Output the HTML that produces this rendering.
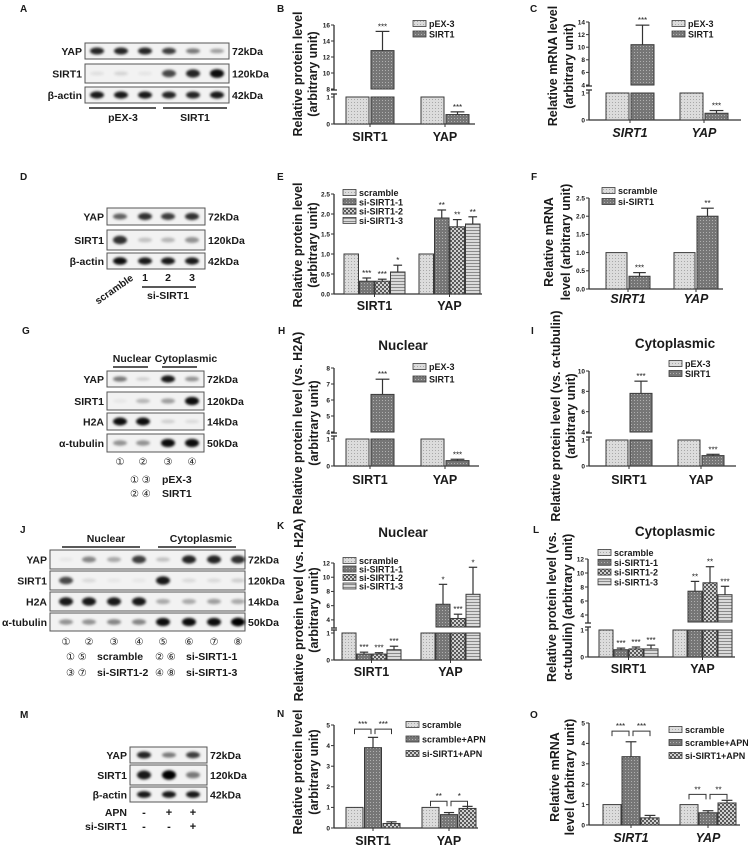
<!DOCTYPE html>
<html><head><meta charset="utf-8">
<style>
html,body{margin:0;padding:0;background:#fff;}
svg{display:block;font-family:"Liberation Sans",Arial,sans-serif;}
</style></head>
<body>
<svg id="fig" width="748" height="847" viewBox="0 0 748 847" xmlns="http://www.w3.org/2000/svg">
<defs>
<pattern id="pDot" width="3" height="3" patternUnits="userSpaceOnUse"><rect width="3" height="3" fill="#dcdcdc"/><rect x="0" y="0" width="1" height="1" fill="#a8a8a8"/></pattern>
<pattern id="pCross" width="3" height="3" patternUnits="userSpaceOnUse"><rect width="3" height="3" fill="#767676"/><rect x="1" y="1" width="1" height="1" fill="#b0b0b0"/></pattern>
<pattern id="pCheck" width="4" height="4" patternUnits="userSpaceOnUse"><rect width="4" height="4" fill="#5a5a5a"/><rect x="0" y="0" width="2" height="2" fill="#d0d0d0"/><rect x="2" y="2" width="2" height="2" fill="#d0d0d0"/></pattern>
<pattern id="pStripe" width="3" height="3" patternUnits="userSpaceOnUse"><rect width="3" height="3" fill="#dadada"/><rect x="0" y="2" width="3" height="1" fill="#8a8a8a"/></pattern>
<filter id="blur" x="-50%" y="-50%" width="200%" height="200%"><feGaussianBlur stdDeviation="1.4"/></filter>
</defs>
</svg>
<script>
// ---------- chart data ----------
const cats = ['SIRT1','YAP'];
// B
const bPex = [1,1]; const bSirt = [12.8,0.35]; const bSirtErr = [2.4,0.1];
const bTicksLow = [0,1]; const bTicksHigh = [8,10,12,14,16];
// C
const cPex = [1,1]; const cSirt = [10.4,0.25]; const cSirtErr = [3.1,0.1];
const cTicksLow = [0,1]; const cTicksHigh = [4,6,8,10,12,14];
// E
const eScr = [1,1]; const eSi1 = [0.32,1.9]; const eSi2 = [0.32,1.68]; const eSi3 = [0.55,1.75];
const eSi1Err = [0.08,0.2]; const eSi2Err = [0.05,0.18]; const eSi3Err = [0.17,0.18];
const eSi1Sig = ['***','**']; const eSi2Sig = ['***','**']; const eSi3Sig = ['*','**'];
const eTicks = [0,0.5,1.0,1.5,2.0,2.5];
// F
const fScr = [1,1]; const fSi = [0.35,2.0]; const fSiErr = [0.1,0.22]; const fSiSig = ['***','**'];
const fTicks = [0,0.5,1.0,1.5,2.0,2.5];
// H
const hPex = [1,1]; const hSirt = [6.35,0.2]; const hSirtErr = [0.95,0.05];
const hTicksLow = [0,1]; const hTicksHigh = [4,5,6,7,8];
// I
const iPex = [1,1]; const iSirt = [7.8,0.4]; const iSirtErr = [1.2,0.05];
const iTicksLow = [0,1]; const iTicksHigh = [4,6,8,10];
// K
const kScr = [1,1]; const kSi1 = [0.22,6.2]; const kSi2 = [0.22,4.2]; const kSi3 = [0.38,7.6];
const kSi1Err = [0.07,2.8]; const kSi2Err = [0.05,0.6]; const kSi3Err = [0.13,3.8];
const kSi1Sig = ['***','*']; const kSi2Sig = ['***','***']; const kSi3Sig = ['***','*'];
const kTicksLow = [0,1]; const kTicksHigh = [4,6,8,10,12];
// L
const lScr = [1,1]; const lSi1 = [0.27,7.4]; const lSi2 = [0.3,8.6]; const lSi3 = [0.3,6.9];
const lSi1Err = [0.06,1.4]; const lSi2Err = [0.07,2.3]; const lSi3Err = [0.14,1.2];
const lSi1Sig = ['***','**']; const lSi2Sig = ['***','**']; const lSi3Sig = ['***','***'];
const lTicksLow = [0,1]; const lTicksHigh = [4,6,8,10,12];
// N
const nScr = [1,1]; const nApn = [3.9,0.65]; const nSiApn = [0.22,0.95];
const nApnErr = [0.5,0.1]; const nSiApnErr = [0.08,0.1];
const nBracketY = [4.8,1.3]; const nSig12 = ['***','**']; const nSig23 = ['***','*'];
const nTicks = [0,1,2,3,4,5];
// O
const oScr = [1,1]; const oApn = [3.35,0.6]; const oSiApn = [0.35,1.08];
const oApnErr = [0.73,0.1]; const oSiApnErr = [0.12,0.13];
const oBracketY = [4.6,1.5]; const oSig12 = ['***','**']; const oSig23 = ['***','**'];
const oTicks = [0,1,2,3,4,5];

// ---------- blot data (band intensities per lane) ----------
const aYap = [.85,.85,.85,.75,.5,.35]; const aSirt = [.08,.12,.06,.7,.85,.95]; const aActin = [.9,.9,.9,.85,.85,.9];
const dYap = [.6,.8,.75,.8]; const dSirt = [.8,.2,.25,.4]; const dActin = [.95,.9,.9,.9];
const gYap = [.5,.15,.9,.4]; const gSirt = [.05,.25,.35,.95]; const gH2a = [.95,.95,.15,.1]; const gTub = [.4,.4,.95,.95];
const jYap = [.05,.45,.3,.75,.2,.85,.85,.8]; const jSirt = [.7,.1,.05,.05,.9,.1,.1,.15]; const jH2a = [.9,.9,.9,.9,.3,.3,.35,.3]; const jTub = [.4,.4,.45,.45,.95,.95,.95,1];
const mYap = [.85,.5,.75]; const mSirt = [.9,1,.5]; const mActin = [.9,.9,.9];

const NS = 'http://www.w3.org/2000/svg';
const fig = document.getElementById('fig');
function el(tag, attrs, parent, name){
  const e = document.createElementNS(NS, tag);
  for (const k in attrs) e.setAttribute(k, attrs[k]);
  
  
  (parent||fig).appendChild(e);
  return e;
}
function txt(x,y,s,size,opts,parent,name){
  opts = opts||{};
  const t = el('text',{x:x,y:y,'font-size':size,'font-weight':opts.w||'bold','text-anchor':opts.a||'start',fill:'#1a1a1a','font-style':opts.i?'italic':'normal'},parent,name);
  if (opts.rot) t.setAttribute('transform','rotate(-90 '+x+' '+y+')');
  t.textContent = s;
  return t;
}

function chart(c){
  const g = el('g',{},fig,c.name);
  const Y = v => {
    if (!c.brk) return c.y0 - (v - 0)/(c.max)*(c.y0 - c.yTop);
    if (v <= 1) return c.y0 - v*(c.y0 - c.y1);
    return c.yLo - (v - c.lo)/(c.hi - c.lo)*(c.yLo - c.yHi);
  };
  const stroke = {stroke:'#333','stroke-width':1.3,fill:'none'};
  if (c.brk){
    el('line',Object.assign({x1:c.ax,y1:c.y0,x2:c.ax,y2:c.y1-3},stroke),g,'y-axis-lower');
    el('line',Object.assign({x1:c.ax-3,y1:c.y1-3,x2:c.ax+3,y2:c.y1-3},stroke),g,'axis-break-mark');
    el('line',Object.assign({x1:c.ax,y1:c.yLo+1,x2:c.ax,y2:c.yHi},stroke),g,'y-axis-upper');
    el('line',Object.assign({x1:c.ax-3,y1:c.yLo+1,x2:c.ax+3,y2:c.yLo+1},stroke),g,'axis-break-mark');
  } else {
    el('line',Object.assign({x1:c.ax,y1:c.y0,x2:c.ax,y2:c.yTop},stroke),g,'y-axis');
  }
  el('line',Object.assign({x1:c.ax,y1:c.y0,x2:c.end,y2:c.y0},stroke),g,'x-axis');
  c.ticks.forEach(v => {
    const y = Y(v);
    el('line',{x1:c.ax-3,y1:y,x2:c.ax,y2:y,stroke:'#333','stroke-width':1},g,'y-tick');
    txt(c.ax-4, y+2.3, c.dec ? v.toFixed(1) : String(v), 6.5, {a:'end'}, g, 'y-tick-label');
  });
  const n = c.series.length;
  cats.forEach((cat, gi) => {
    const gx = c.gs[gi];
    const gw = n*c.bw + (n-1)*c.gap;
    el('line',{x1:gx+gw/2,y1:c.y0,x2:gx+gw/2,y2:c.y0+3,stroke:'#333','stroke-width':1},g,'x-tick');
    txt(gx+gw/2, c.ly, cat, 12.5, {a:'middle', i:c.italic}, g, 'x-label-'+cat.toLowerCase());
    c.series.forEach((s, si) => {
      const v = s.vals[gi];
      const x = gx + si*(c.bw + c.gap);
      const bs = {fill:'url(#'+s.pat+')',stroke:'#3a3a3a','stroke-width':1};
      if (c.brk && v > 1){
        el('rect',Object.assign({x:x,y:Y(1),width:c.bw,height:c.y0-Y(1)},bs),g,'bar-'+cat.toLowerCase()+'-'+si+'-lower');
        el('rect',Object.assign({x:x,y:Y(v),width:c.bw,height:c.yLo-Y(v)},bs),g,'bar-'+cat.toLowerCase()+'-'+si+'-upper');
      } else {
        el('rect',Object.assign({x:x,y:Y(v),width:c.bw,height:c.y0-Y(v)},bs),g,'bar-'+cat.toLowerCase()+'-'+si);
      }
      const cx = x + c.bw/2;
      let top = Y(v);
      if (s.errs && s.errs[gi]){
        const ye = Y(v + s.errs[gi]);
        el('line',{x1:cx,y1:Y(v),x2:cx,y2:ye,stroke:'#333','stroke-width':1.2},g,'error-bar');
        el('line',{x1:cx-c.bw*0.3,y1:ye,x2:cx+c.bw*0.3,y2:ye,stroke:'#333','stroke-width':1.2},g,'error-cap');
        top = ye;
      }
      if (s.sig && s.sig[gi]) txt(cx, top-2, s.sig[gi], 8, {a:'middle', w:'normal'}, g, 'significance-star');
    });
    if (c.brackets){
      const by = Y(c.brackets.y[gi]);
      const cxs = [0,1,2].map(i => gx + i*(c.bw+c.gap) + c.bw/2);
      [[0,1,c.brackets.s12[gi]],[1,2,c.brackets.s23[gi]]].forEach(([a,b,s]) => {
        const x1 = cxs[a] + (a===1?2:0), x2 = cxs[b] - (b===1?2:0);
        el('path',{d:'M'+x1+' '+(by+5)+' V'+by+' H'+x2+' V'+(by+5),stroke:'#333','stroke-width':1,fill:'none'},g,'significance-bracket');
        txt((x1+x2)/2, by-2, s, 8, {a:'middle', w:'normal'}, g, 'significance-star');
      });
    }
  });
  c.series.forEach((s, si) => {
    const ly = c.lgY + si*c.lgDy;
    el('rect',{x:c.lgX,y:ly-3.5,width:13,height:6,fill:'url(#'+s.pat+')',stroke:'#3a3a3a','stroke-width':0.8},g,'legend-swatch');
    txt(c.lgX+16, ly+3, s.name, 9, {}, g, 'legend-entry');
  });
  c.yt.forEach(t => txt(t[0], c.ytY, t[1], t[2]||12.5, {a:'middle', rot:true}, g, 'y-axis-title'));
  if (c.title) txt(c.title[0], c.title[1], c.title[2], 13.5, {a:'middle'}, g, 'chart-title');
}

chart({name:'chart-b',brk:true,ax:334,end:475,y0:124,y1:97,lo:8,hi:16,yLo:89,yHi:25,ticks:bTicksLow.concat(bTicksHigh),gs:[346,421],bw:23,gap:2,ly:141,
  series:[{name:'pEX-3',vals:bPex,pat:'pDot'},{name:'SIRT1',vals:bSirt,errs:bSirtErr,sig:['***','***'],pat:'pCross'}],
  lgX:413,lgY:24,lgDy:10.5,ytY:74,yt:[[302,'Relative protein level'],[317,'(arbitrary unit)']]});
chart({name:'chart-c',brk:true,ax:589,end:741,y0:120,y1:93,lo:4,hi:14,yLo:85,yHi:22,ticks:cTicksLow.concat(cTicksHigh),gs:[606,680],bw:23,gap:2,ly:137,italic:true,
  series:[{name:'pEX-3',vals:cPex,pat:'pDot'},{name:'SIRT1',vals:cSirt,errs:cSirtErr,sig:['***','***'],pat:'pCross'}],
  lgX:672,lgY:24,lgDy:10.5,ytY:66,yt:[[557,'Relative  mRNA level'],[573,'(arbitrary unit)']]});
chart({name:'chart-e',ax:334,end:482,y0:294,yTop:194,max:2.5,dec:true,ticks:eTicks,gs:[344,419],bw:14.5,gap:1,ly:310,
  series:[{name:'scramble',vals:eScr,pat:'pDot'},{name:'si-SIRT1-1',vals:eSi1,errs:eSi1Err,sig:eSi1Sig,pat:'pCross'},{name:'si-SIRT1-2',vals:eSi2,errs:eSi2Err,sig:eSi2Sig,pat:'pCheck'},{name:'si-SIRT1-3',vals:eSi3,errs:eSi3Err,sig:eSi3Sig,pat:'pStripe'}],
  lgX:343,lgY:193,lgDy:9.3,ytY:245,yt:[[302,'Relative protein level'],[317,'(arbitrary unit)']]});
chart({name:'chart-f',ax:589,end:723,y0:289,yTop:198,max:2.5,dec:true,ticks:fTicks,gs:[606,674],bw:21,gap:2,ly:303,italic:true,
  series:[{name:'scramble',vals:fScr,pat:'pDot'},{name:'si-SIRT1',vals:fSi,errs:fSiErr,sig:fSiSig,pat:'pCross'}],
  lgX:602,lgY:191,lgDy:11,ytY:242,yt:[[553,'Relative  mRNA'],[570,'level (arbitrary unit)']]});
chart({name:'chart-h',brk:true,ax:334,end:479,y0:466,y1:439,lo:4,hi:8,yLo:432,yHi:368,ticks:hTicksLow.concat(hTicksHigh),gs:[346,421],bw:23,gap:2,ly:484,
  series:[{name:'pEX-3',vals:hPex,pat:'pDot'},{name:'SIRT1',vals:hSirt,errs:hSirtErr,sig:['***','***'],pat:'pCross'}],
  lgX:413,lgY:367,lgDy:12.5,ytY:423,yt:[[302,'Relative protein level (vs. H2A)'],[318,'(arbitrary unit)']],title:[403,350,'Nuclear']});
chart({name:'chart-i',brk:true,ax:589,end:736,y0:466,y1:440,lo:4,hi:10,yLo:432,yHi:371,ticks:iTicksLow.concat(iTicksHigh),gs:[606,678],bw:22,gap:2,ly:484,
  series:[{name:'pEX-3',vals:iPex,pat:'pDot'},{name:'SIRT1',vals:iSirt,errs:iSirtErr,sig:['***','***'],pat:'pCross'}],
  lgX:669,lgY:364,lgDy:10,ytY:416,yt:[[560,'Relative protein level (vs. α-tubulin)'],[575,'(arbitrary unit)']],title:[675,348,'Cytoplasmic']});
chart({name:'chart-k',brk:true,ax:334,end:482,y0:660,y1:633,lo:3,hi:12,yLo:627,yHi:563,ticks:kTicksLow.concat(kTicksHigh),gs:[342,421],bw:14,gap:1,ly:676,
  series:[{name:'scramble',vals:kScr,pat:'pDot'},{name:'si-SIRT1-1',vals:kSi1,errs:kSi1Err,sig:kSi1Sig,pat:'pCross'},{name:'si-SIRT1-2',vals:kSi2,errs:kSi2Err,sig:kSi2Sig,pat:'pCheck'},{name:'si-SIRT1-3',vals:kSi3,errs:kSi3Err,sig:kSi3Sig,pat:'pStripe'}],
  lgX:343,lgY:561,lgDy:8.5,ytY:610,yt:[[303,'Relative protein level (vs. H2A)'],[318,'(arbitrary unit)']],title:[403,537,'Nuclear']});
chart({name:'chart-l',brk:true,ax:588,end:735,y0:657,y1:630,lo:3,hi:12,yLo:622,yHi:559,ticks:lTicksLow.concat(lTicksHigh),gs:[599,673],bw:14,gap:1,ly:673,
  series:[{name:'scramble',vals:lScr,pat:'pDot'},{name:'si-SIRT1-1',vals:lSi1,errs:lSi1Err,sig:lSi1Sig,pat:'pCross'},{name:'si-SIRT1-2',vals:lSi2,errs:lSi2Err,sig:lSi2Sig,pat:'pCheck'},{name:'si-SIRT1-3',vals:lSi3,errs:lSi3Err,sig:lSi3Sig,pat:'pStripe'}],
  lgX:598,lgY:553,lgDy:9.8,ytY:607,yt:[[556,'Relative protein level (vs.'],[572,'α-tubulin) (arbitrary unit)']],title:[675,536,'Cytoplasmic']});
chart({name:'chart-n',ax:334,end:478,y0:828,yTop:725,max:5,ticks:nTicks,gs:[346,422],bw:17,gap:1.5,ly:845,
  series:[{name:'scramble',vals:nScr,pat:'pDot'},{name:'scramble+APN',vals:nApn,errs:nApnErr,pat:'pCross'},{name:'si-SIRT1+APN',vals:nSiApn,errs:nSiApnErr,pat:'pCheck'}],
  brackets:{y:nBracketY,s12:nSig12,s23:nSig23},
  lgX:406,lgY:725,lgDy:14.5,ytY:772,yt:[[302,'Relative protein level'],[318,'(arbitrary unit)']]});
chart({name:'chart-o',ax:589,end:740,y0:825,yTop:723,max:5,ticks:oTicks,gs:[603,680],bw:18,gap:1,ly:842,italic:true,
  series:[{name:'scramble',vals:oScr,pat:'pDot'},{name:'scramble+APN',vals:oApn,errs:oApnErr,pat:'pCross'},{name:'si-SIRT1+APN',vals:oSiApn,errs:oSiApnErr,pat:'pCheck'}],
  brackets:{y:oBracketY,s12:oSig12,s23:oSig23},
  lgX:669,lgY:730,lgDy:13,ytY:777,yt:[[559,'Relative  mRNA'],[574,'level  (arbitrary unit)']]});

// ---------- blots ----------
function blot(b){
  const g = el('g',{},fig,b.name);
  b.rows.forEach(r => {
    el('rect',{x:b.x0,y:r.y,width:b.x1-b.x0,height:r.h,fill:'#f2f2f2',stroke:'#555','stroke-width':1},g,'blot-row-'+r.label.toLowerCase());
    txt(b.x0-3, r.y+r.h/2+4, r.label, 10.5, {a:'end'}, g, 'blot-row-label');
    txt(b.x1+3, r.y+r.h/2+4, r.kda, 10.5, {}, g, 'blot-kda-label');
    r.vals.forEach((v, i) => {
      el('ellipse',{cx:b.lanes[i],cy:r.y+r.h/2,rx:b.rx,ry:Math.max(1.5,r.h*0.15*(0.6+v)),fill:'#000','fill-opacity':v,filter:'url(#blur)'},g,'blot-band');
    });
  });
}
blot({name:'blot-a',x0:85,x1:229,lanes:[97,121,145,169,193,217],rx:7,rows:[
  {label:'YAP',kda:'72kDa',y:43,h:16,vals:aYap},{label:'SIRT1',kda:'120kDa',y:64,h:19,vals:aSirt},{label:'β-actin',kda:'42kDa',y:87,h:16,vals:aActin}]});
blot({name:'blot-d',x0:107,x1:205,lanes:[120,145,168,192],rx:7,rows:[
  {label:'YAP',kda:'72kDa',y:208,h:17,vals:dYap},{label:'SIRT1',kda:'120kDa',y:230,h:20,vals:dSirt},{label:'β-actin',kda:'42kDa',y:253,h:16,vals:dActin}]});
blot({name:'blot-g',x0:107,x1:204,lanes:[120,143,168,192],rx:7,rows:[
  {label:'YAP',kda:'72kDa',y:371,h:16,vals:gYap},{label:'SIRT1',kda:'120kDa',y:392,h:18,vals:gSirt},{label:'H2A',kda:'14kDa',y:413,h:17,vals:gH2a},{label:'α-tubulin',kda:'50kDa',y:434,h:18,vals:gTub}]});
blot({name:'blot-j',x0:50,x1:245,lanes:[66,89,114,139,163,189,214,238],rx:7,rows:[
  {label:'YAP',kda:'72kDa',y:550,h:19,vals:jYap},{label:'SIRT1',kda:'120kDa',y:571,h:19,vals:jSirt},{label:'H2A',kda:'14kDa',y:592,h:19,vals:jH2a},{label:'α-tubulin',kda:'50kDa',y:613,h:18,vals:jTub}]});
blot({name:'blot-m',x0:130,x1:207,lanes:[144,169,193],rx:7,rows:[
  {label:'YAP',kda:'72kDa',y:747,h:16,vals:mYap},{label:'SIRT1',kda:'120kDa',y:765,h:20,vals:mSirt},{label:'β-actin',kda:'42kDa',y:787,h:15,vals:mActin}]});

// ---------- blot annotations ----------
const ln = (x1,y1,x2,y2,n) => el('line',{x1:x1,y1:y1,x2:x2,y2:y2,stroke:'#222','stroke-width':1.6},fig,n);
ln(89,108,156,108,'group-line-pex3'); ln(163,108,227,108,'group-line-sirt1');
txt(123,121,'pEX-3',10.5,{a:'middle'},null,'group-label-pex3');
txt(195,121,'SIRT1',10.5,{a:'middle'},null,'group-label-sirt1');
txt(116,292,'scramble',10,{a:'middle'},null,'lane-label-scramble').setAttribute('transform','rotate(-35 116 292)');
[['1',145],['2',168],['3',192]].forEach(a => txt(a[1],281,a[0],10.5,{a:'middle'},null,'lane-number'));
ln(142,287,196,287,'group-line-si-sirt1');
txt(168,299,'si-SIRT1',10.5,{a:'middle'},null,'group-label-si-sirt1');
// G
txt(132,362,'Nuclear',10.5,{a:'middle'},null,'fraction-label-nuclear');
txt(186,362,'Cytoplasmic',10.5,{a:'middle'},null,'fraction-label-cytoplasmic');
ln(113,367,148,367,'fraction-line'); ln(162,367,197,367,'fraction-line');
['①','②','③','④'].forEach((s,i) => txt([120,143,168,192][i],465,s,10,{a:'middle',w:'normal'},null,'lane-number'));
txt(130,483,'① ③',10,{w:'normal'},null,'lane-key'); txt(162,483,'pEX-3',10.5,{},null,'lane-key-label');
txt(130,497,'② ④',10,{w:'normal'},null,'lane-key'); txt(162,497,'SIRT1',10.5,{},null,'lane-key-label');
// J
txt(106,542,'Nuclear',10.5,{a:'middle'},null,'fraction-label-nuclear');
txt(201,542,'Cytoplasmic',10.5,{a:'middle'},null,'fraction-label-cytoplasmic');
ln(62,547,140,547,'fraction-line'); ln(158,547,236,547,'fraction-line');
['①','②','③','④','⑤','⑥','⑦','⑧'].forEach((s,i) => txt([66,89,114,139,163,189,214,238][i],645,s,10,{a:'middle',w:'normal'},null,'lane-number'));
txt(66,660,'① ⑤',10,{w:'normal'},null,'lane-key'); txt(97,660,'scramble',10.5,{},null,'lane-key-label');
txt(155,660,'② ⑥',10,{w:'normal'},null,'lane-key'); txt(186,660,'si-SIRT1-1',10.5,{},null,'lane-key-label');
txt(66,676,'③ ⑦',10,{w:'normal'},null,'lane-key'); txt(97,676,'si-SIRT1-2',10.5,{},null,'lane-key-label');
txt(155,676,'④ ⑧',10,{w:'normal'},null,'lane-key'); txt(186,676,'si-SIRT1-3',10.5,{},null,'lane-key-label');
// M
txt(127,816,'APN',10.5,{a:'end'},null,'treatment-label-apn');
txt(127,830,'si-SIRT1',10.5,{a:'end'},null,'treatment-label-si-sirt1');
['-','+','+'].forEach((s,i) => txt([144,169,193][i],816,s,11,{a:'middle'},null,'treatment-sign'));
['-','-','+'].forEach((s,i) => txt([144,169,193][i],830,s,11,{a:'middle'},null,'treatment-sign'));

// ---------- panel letters ----------
[['A',20,12],['B',277,12],['C',530,12],['D',20,180],['E',277,180],['F',531,180],['G',22,334],['H',278,334],['I',531,334],['J',20,533],['K',277,529],['L',533,533],['M',20,718],['N',277,717],['O',530,718]]
  .forEach(p => txt(p[1],p[2],p[0],10,{},null,'panel-label-'+p[0].toLowerCase()));
</script>
</body></html>
